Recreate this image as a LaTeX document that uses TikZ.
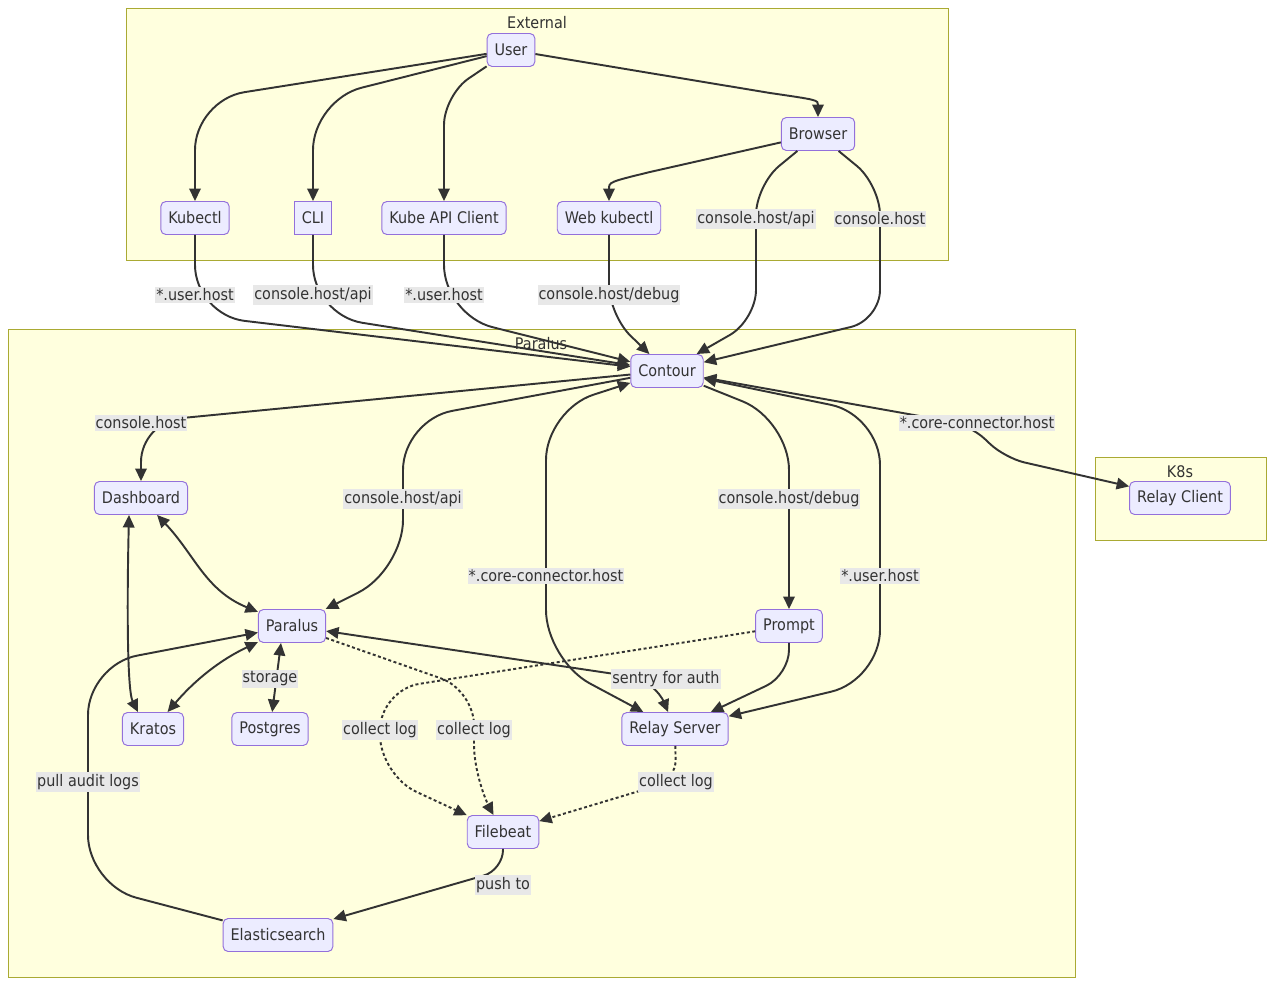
\documentclass[tikz,border=0pt]{standalone}
\usepackage{fontspec}
\setmainfont{DejaVu Sans}[FakeStretch=0.9]
\usetikzlibrary{arrows.meta}
\definecolor{inkgray}{HTML}{333333}
\definecolor{boxfill}{HTML}{ECECFF}
\definecolor{boxline}{HTML}{9370DB}
\definecolor{zonefill}{HTML}{FFFFDE}
\definecolor{zoneline}{HTML}{AAAA33}
\definecolor{lblfill}{HTML}{E8E8E8}
\begin{document}
\begin{tikzpicture}[x=0.02cm,y=-0.02cm,
	every node/.style={font=\fontsize{9.1}{11}\selectfont,text=inkgray},
	box/.style={draw=boxline,fill=boxfill,line width=0.55pt,rounded corners=0.1cm,minimum height=0.66cm,inner xsep=0.15cm,inner ysep=0pt},
	sqbox/.style={box,sharp corners},
	lbl/.style={fill=lblfill,inner xsep=0.02cm,inner ysep=0.04cm},
	zone/.style={draw=zoneline,fill=zonefill,line width=0.5pt},
	link/.style={draw=inkgray,line width=1.1pt,rounded corners=1cm,-{Triangle[length=0.25cm,width=0.23cm]}},
	twoway/.style={link,{Triangle[length=0.25cm,width=0.23cm]}-{Triangle[length=0.25cm,width=0.23cm]}},
	dotlink/.style={link,dash pattern=on 0.06cm off 0.05cm}]
		\useasboundingbox (0,0) rectangle (1274,986);
		%Bereiche
		\draw [zone] (126,8) rectangle (948,260);
		\draw [zone] (8,329) rectangle (1075,977);
		\draw [zone] (1095,457) rectangle (1266,540);
		\node (externaltitle) at (537,23) {External};
		\node (paralustitle) at (541,344) {Paralus};
		\node (k8stitle) at (1180,472) {K8s};
		%External
		\node [box] (user) at (511,50) {User};
		\node [box] (browser) at (818,134) {Browser};
		\node [box] (kubectl) at (195,218) {Kubectl};
		\node [sqbox] (cli) at (313,218) {CLI};
		\node [box] (kubeapi) at (444,218) {Kube API Client};
		\node [box] (webkubectl) at (609,218) {Web kubectl};
		%Paralus
		\node [box] (contour) at (667,371) {Contour};
		\node [box] (dashboard) at (141,498) {Dashboard};
		\node [box] (paralus) at (292,626) {Paralus};
		\node [box] (prompt) at (789,626) {Prompt};
		\node [box] (kratos) at (153,729) {Kratos};
		\node [box] (postgres) at (270,729) {Postgres};
		\node [box] (relayserver) at (675,729) {Relay Server};
		\node [box] (filebeat) at (503,832) {Filebeat};
		\node [box] (elasticsearch) at (278,935) {Elasticsearch};
		%K8s
		\node [box] (relayclient) at (1180,498) {Relay Client};
		%User
		\draw [link] (user) -- (195,100) -- (kubectl);
		\draw [link] (user) -- (313,100) -- (cli);
		\draw [link,rounded corners=0.6cm] (user) -- (444,95) -- (kubeapi);
		\draw [link,sharp corners] (user) -- (770,93) .. controls (818,100) .. (browser);
		\draw [link,sharp corners] (browser) -- (650,172) .. controls (609,182) .. (webkubectl);
		\draw [link,rounded corners=0.6cm] (browser) -- (756,185) -- (756,320) -- (contour);
		\draw [link,rounded corners=0.6cm] (browser) -- (880,185) -- (880,320) -- (contour);
		%nach Contour
		\draw [link] (kubectl) -- (195,315) -- (contour);
		\draw [link] (cli) -- (313,315) -- (contour);
		\draw [link] (kubeapi) -- (444,315) -- (contour);
		\draw [link,rounded corners=0.6cm] (webkubectl) -- (609,315) -- (contour);
		%von Contour
		\draw [link,rounded corners=0.8cm] (contour) -- (141,422) -- (dashboard);
		\draw [link] (contour) -- (403,420) -- (403,570) -- (paralus);
		\draw [twoway] (contour) -- (546,410) -- (546,660) -- (relayserver);
		\draw [link] (contour) -- (789,420) -- (prompt);
		\draw [twoway] (contour) -- (880,415) -- (880,680) -- (relayserver);
		\draw [twoway,rounded corners=0.4cm] (contour) -- (970,425) -- (1005,458) -- (relayclient);
		%Paralus
		\draw [twoway] (dashboard) .. controls (195,555) and (205,590) .. (paralus);
		\draw [twoway] ([xshift=-0.24cm]dashboard.south) .. controls (127,600) and (127,690) .. ([xshift=-0.3cm]kratos.north);
		\draw [twoway] (kratos) .. controls (195,680) and (220,660) .. (paralus);
		\draw [twoway] ([xshift=-0.22cm]paralus.south) -- (postgres);
		\draw [twoway,rounded corners=0.5cm] (paralus) -- (655,680) -- (relayserver);
		\draw [link,rounded corners=0.5cm] (prompt) -- (789,675) -- (relayserver);
		%Logs
		\draw [link] (elasticsearch) -- (88,885) -- (88,665) -- (paralus);
		\draw [link,rounded corners=0.4cm] (filebeat) -- (503,870) -- (elasticsearch);
		\draw [dotlink,rounded corners=0.8cm] (prompt) -- (380,690) -- (380,775) -- (filebeat);
		\draw [dotlink,rounded corners=0.7cm] (paralus) -- (474,690) -- (474,780) -- (filebeat);
		\draw [dotlink,rounded corners=0.4cm] (relayserver) -- (676,780) -- (filebeat);
		%Beschriftungen
		\node [lbl] (lkubectl) at (195,295) {*.user.host};
		\node [lbl] (lcli) at (313,295) {console.host/api};
		\node [lbl] (lkubeapi) at (444,295) {*.user.host};
		\node [lbl] (lwebkubectl) at (609,295) {console.host/debug};
		\node [lbl] (lbrowserapi) at (756,219) {console.host/api};
		\node [lbl] (lbrowser) at (880,219) {console.host};
		\node [lbl] (ldashboard) at (141,423) {console.host};
		\node [lbl] (lparalus) at (403,499) {console.host/api};
		\node [lbl] (lcorerelay) at (546,576) {*.core-connector.host};
		\node [lbl] (lprompt) at (789,499) {console.host/debug};
		\node [lbl] (luserrelay) at (880,576) {*.user.host};
		\node [lbl] (lrelayclient) at (977,423) {*.core-connector.host};
		\node [lbl] (lstorage) at (270,679) {storage};
		\node [lbl] (lsentry) at (666,679) {sentry for auth};
		\node [lbl] (lpromptlog) at (380,730) {collect log};
		\node [lbl] (lparaluslog) at (474,730) {collect log};
		\node [lbl] (lrelaylog) at (676,782) {collect log};
		\node [lbl] (laudit) at (88,782) {pull audit logs};
		\node [lbl] (lpush) at (503,885) {push to};
\end{tikzpicture}
\end{document}
